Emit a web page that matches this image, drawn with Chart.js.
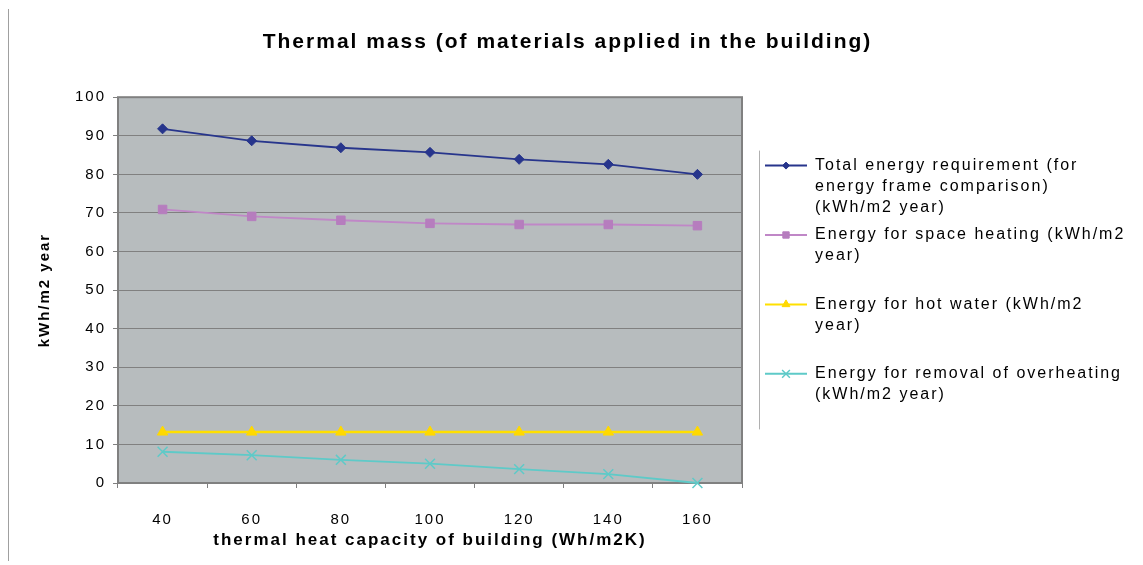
<!DOCTYPE html>
<html>
<head>
<meta charset="utf-8">
<title>Thermal mass</title>
<script src="https://cdn.jsdelivr.net/npm/chart.js@4/dist/chart.umd.min.js"></script>
<style>
  html, body { margin: 0; padding: 0; background: #fff; }
  #wrap { width: 1143px; height: 565px; }
</style>
</head>
<body>
<div id="wrap"><canvas id="chart" width="1143" height="565"></canvas></div>
<script>
// values
const capacities = ['40', '60', '80', '100', '120', '140', '160'];
const totalEnergy = [91.8, 88.7, 86.9, 85.7, 83.9, 82.6, 80.0];
const spaceHeating = [70.9, 69.1, 68.1, 67.3, 67.0, 67.0, 66.7];
const hotWater = [13.2, 13.2, 13.2, 13.2, 13.2, 13.2, 13.2];
const overheating = [8.1, 7.2, 6.0, 5.0, 3.6, 2.3, 0.0];
const yMin = 0, yMax = 100, yStep = 10;

const seriesNames = [
  'Total energy requirement (for energy frame comparison) (kWh/m2 year)',
  'Energy for space heating (kWh/m2 year)',
  'Energy for hot water (kWh/m2 year)',
  'Energy for removal of overheating (kWh/m2 year)'
];
// legend text broken the way the original wraps it (blank line keeps the spacing)
const legendLines = [
  ['Total energy requirement (for', 'energy frame comparison)', '(kWh/m2 year)'],
  ['Energy for space heating (kWh/m2', 'year)', ''],
  ['Energy for hot water (kWh/m2', 'year)', ''],
  ['Energy for removal of overheating', '(kWh/m2 year)']
];

const SPACING = '2px'; // text in the original is drawn wide
const plotFill = '#b7bcbe';
const gridGrey = '#808080';

Chart.defaults.font.family = '"Liberation Sans", Arial, sans-serif';
Chart.defaults.color = '#000';

// plot background, frame, legend markers
const frame = {
  id: 'frame',
  beforeUpdate(chart) { chart.ctx.letterSpacing = SPACING; },
  beforeDraw(chart) {
    const {ctx, chartArea: a} = chart;
    ctx.letterSpacing = SPACING;
    ctx.save();
    ctx.fillStyle = '#fff';
    ctx.fillRect(0, 0, chart.width, chart.height);
    ctx.fillStyle = plotFill;
    ctx.fillRect(a.left, a.top, a.right - a.left, a.bottom - a.top);
    ctx.strokeStyle = '#a0a0a0';
    ctx.lineWidth = 1;
    ctx.beginPath();
    ctx.moveTo(8.5, 9);
    ctx.lineTo(8.5, chart.height - 4);
    ctx.stroke();
    ctx.restore();
  },
  beforeDatasetsDraw(chart) {
    const {ctx, chartArea: a} = chart;
    ctx.save();
    ctx.strokeStyle = gridGrey;
    ctx.lineWidth = 2;
    ctx.strokeRect(a.left, a.top, a.right - a.left, a.bottom - a.top);
    ctx.restore();
  },
  afterDraw(chart) {
    const lg = chart.legend;
    const ctx = chart.ctx;
    const boxes = lg.legendHitBoxes || [];
    ctx.save();
    boxes.forEach((hb, i) => {
      const ds = chart.data.datasets[i];
      ctx.fillStyle = ds.pointBackgroundColor;
      ctx.strokeStyle = ds.pointBorderColor;
      ctx.lineWidth = ds.pointBorderWidth;
      if (Chart.helpers && Chart.helpers.drawPoint) {
        Chart.helpers.drawPoint(ctx, {
          pointStyle: ds.pointStyle,
          radius: ds.pointRadius - 1.5,
          rotation: 0,
          borderWidth: ds.pointBorderWidth
        }, hb.left + 21, hb.top + 8);
      }
    });
    if (boxes.length) {
      const first = boxes[0], last = boxes[boxes.length - 1];
      ctx.strokeStyle = '#b0b0b0';
      ctx.lineWidth = 1;
      ctx.beginPath();
      ctx.moveTo(lg.left + 1.5, first.top - 7);
      ctx.lineTo(lg.left + 1.5, last.top + last.height + 22);
      ctx.stroke();
    }
    ctx.restore();
  }
};

new Chart(document.getElementById('chart'), {
  type: 'line',
  data: {
    labels: capacities,
    datasets: [{
      label: seriesNames[0],
      data: totalEnergy,
      borderColor: '#27358c',
      borderWidth: 1.8,
      pointStyle: 'rectRot',
      pointRadius: 5,
      pointBackgroundColor: '#27358c',
      pointBorderColor: '#27358c',
      pointBorderWidth: 1,
      clip: false
    }, {
      label: seriesNames[1],
      data: spaceHeating,
      borderColor: '#c087c7',
      borderWidth: 1.8,
      pointStyle: 'rect',
      pointRadius: 6,
      pointBackgroundColor: '#b67dbe',
      pointBorderColor: '#b67dbe',
      pointBorderWidth: 1,
      clip: false
    }, {
      label: seriesNames[2],
      data: hotWater,
      borderColor: '#ffe000',
      borderWidth: 2.5,
      pointStyle: 'triangle',
      pointRadius: 6,
      pointBackgroundColor: '#ffd900',
      pointBorderColor: '#ffd900',
      pointBorderWidth: 1,
      clip: false
    }, {
      label: seriesNames[3],
      data: overheating,
      borderColor: '#5ecac8',
      borderWidth: 1.8,
      pointStyle: 'crossRot',
      pointRadius: 7,
      pointBackgroundColor: '#5ecac8',
      pointBorderColor: '#5ecac8',
      pointBorderWidth: 1.5,
      clip: false
    }]
  },
  options: {
    responsive: false,
    animation: false,
    events: [],
    layout: { padding: { left: 0, right: 8, top: 0, bottom: 0 } },
    plugins: {
      title: {
        display: true,
        text: 'Thermal mass (of materials applied in the building)',
        font: { size: 21, weight: 'bold' },
        color: '#000',
        padding: { top: 30, bottom: 42 }
      },
      legend: {
        position: 'right',
        align: 'center',
        maxWidth: 377,
        labels: {
          font: { size: 16, lineHeight: 1.3 },
          color: '#000',
          boxWidth: 42,
          boxHeight: 2,
          padding: 7,
          generateLabels: chart => chart.data.datasets.map((ds, i) => ({
            text: legendLines[i],
            fillStyle: ds.borderColor,
            strokeStyle: ds.borderColor,
            lineWidth: 0,
            hidden: false,
            datasetIndex: i,
            fontColor: '#000'
          }))
        }
      },
      tooltip: { enabled: false }
    },
    scales: {
      x: {
        offset: true,
        grid: { display: true, drawOnChartArea: false, offset: true, color: gridGrey, tickLength: 5 },
        border: { display: false },
        ticks: { font: { size: 15 }, color: '#000', padding: 23 },
        title: {
          display: true,
          text: 'thermal heat capacity of building (Wh/m2K)',
          font: { size: 17, weight: 'bold' },
          color: '#000',
          padding: { top: 0, bottom: 14 }
        },
        afterFit: s => { s.height = 82; }
      },
      y: {
        min: yMin,
        max: yMax,
        grid: { color: gridGrey, tickLength: 5, tickColor: gridGrey },
        border: { display: false },
        ticks: { stepSize: yStep, font: { size: 15 }, color: '#000', padding: 7 },
        title: {
          display: true,
          text: 'kWh/m2 year',
          font: { size: 15, weight: 'bold' },
          color: '#000',
          padding: { top: 36, bottom: 0 }
        },
        afterFit: s => { s.width = 118; }
      },
      gap: {
        position: 'right',
        display: true,
        grid: { display: false },
        border: { display: false },
        ticks: { display: false },
        afterFit: s => { s.width = 16; }
      }
    }
  },
  plugins: [frame]
});
</script>
</body>
</html>
